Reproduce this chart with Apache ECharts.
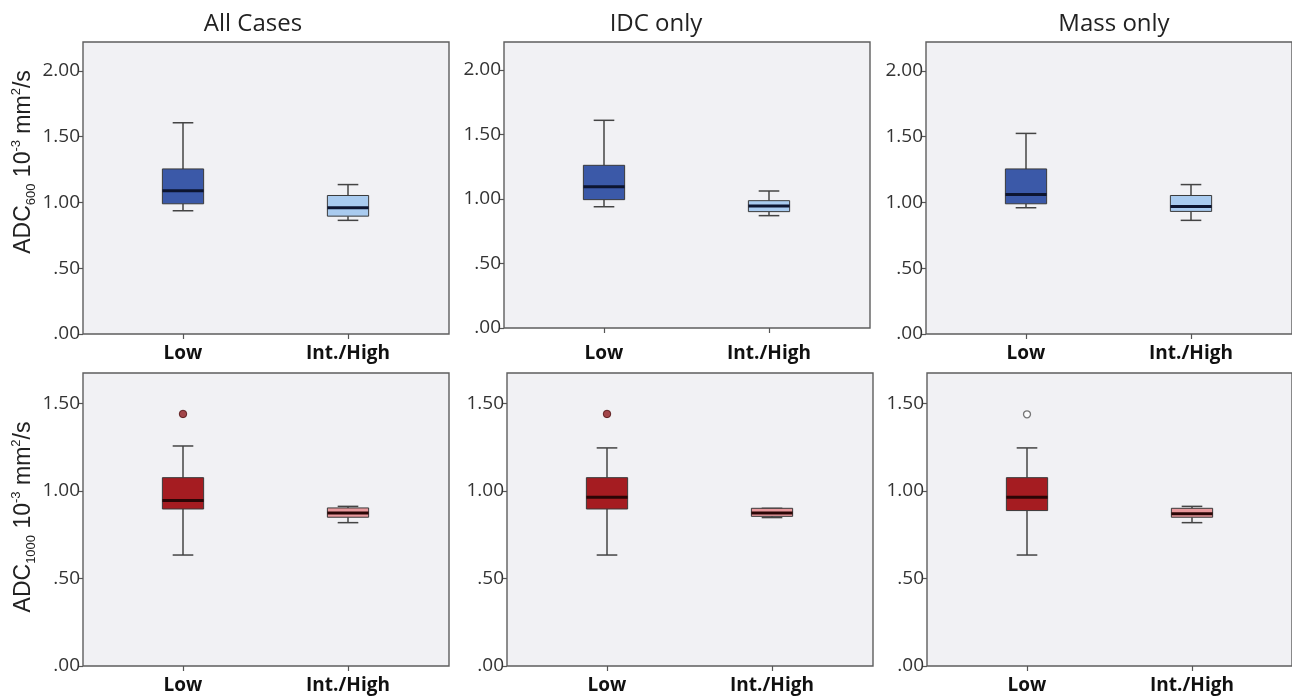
<!DOCTYPE html>
<html><head><meta charset="utf-8">
<script src="https://cdn.jsdelivr.net/npm/echarts@6/dist/echarts.min.js"></script>
<style>html,body{margin:0;padding:0;background:#fff}#c{width:1292px;height:697px}</style>
</head><body><div id="c"></div>
<script>
// ---------- data ----------
const categories = ['Low', 'Int./High'];
const panelTitles = ['All Cases', 'IDC only', 'Mass only'];
const yTicksTop = [0, 0.5, 1.0, 1.5, 2.0];
const yTicksBottom = [0, 0.5, 1.0, 1.5];
// each box: [min, Q1, median, Q3, max]
const adc600AllLow   = [0.937, 0.990, 1.089, 1.255, 1.606];
const adc600AllHigh  = [0.864, 0.896, 0.960, 1.053, 1.136];
const adc600IdcLow   = [0.940, 0.995, 1.095, 1.261, 1.610];
const adc600IdcHigh  = [0.871, 0.902, 0.946, 0.987, 1.062];
const adc600MassLow  = [0.960, 0.990, 1.060, 1.255, 1.525];
const adc600MassHigh = [0.864, 0.932, 0.970, 1.053, 1.136];
const adc1000AllLow   = [0.634, 0.897, 0.945, 1.076, 1.257];
const adc1000AllHigh  = [0.819, 0.850, 0.874, 0.903, 0.912];
const adc1000IdcLow   = [0.634, 0.897, 0.964, 1.076, 1.246];
const adc1000IdcHigh  = [0.848, 0.855, 0.874, 0.901, 0.901];
const adc1000MassLow  = [0.634, 0.888, 0.964, 1.076, 1.246];
const adc1000MassHigh = [0.819, 0.850, 0.870, 0.901, 0.912];
// outliers (Low group)
const adc1000AllOutliers  = [1.44];
const adc1000IdcOutliers  = [1.44];
const adc1000MassOutliers = [1.438];

// ---------- layout / style ----------
const FONT = '"Open Sans", "Liberation Sans", sans-serif';
const panels = [
  {left: 83,  top: 42,  height: 292, yMax: 2.22,  ticks: yTicksTop,    low: adc600AllLow,    high: adc600AllHigh,    out: [], hollow: false, row: 0, lm: 10},
  {left: 504, top: 42,  height: 286, yMax: 2.217, ticks: yTicksTop,    low: adc600IdcLow,    high: adc600IdcHigh,    out: [], hollow: false, row: 0, lm: 16},
  {left: 926, top: 42,  height: 292, yMax: 2.22,  ticks: yTicksTop,    low: adc600MassLow,   high: adc600MassHigh,   out: [], hollow: false, row: 0, lm: 10},
  {left: 83,  top: 373, height: 293, yMax: 1.674, ticks: yTicksBottom, low: adc1000AllLow,   high: adc1000AllHigh,   out: adc1000AllOutliers,  hollow: false, row: 1, lm: 10},
  {left: 507, top: 373, height: 293, yMax: 1.674, ticks: yTicksBottom, low: adc1000IdcLow,   high: adc1000IdcHigh,   out: adc1000IdcOutliers,  hollow: false, row: 1, lm: 10},
  {left: 927, top: 373, height: 293, yMax: 1.674, ticks: yTicksBottom, low: adc1000MassLow,  high: adc1000MassHigh,  out: adc1000MassOutliers, hollow: true,  row: 1, lm: 10}
];
const rowFills = [
  {fills: ['#3B59A8', '#A9CBEF'], median: '#0d1530'},
  {fills: ['#A51C21', '#E9989C'], median: '#2a0606'}
];

function fmt(v) { const s = v.toFixed(2); return s.charAt(0) === '0' ? s.slice(1) : s; }

function makeRender(row) {
  const st = rowFills[row];
  return function (params, api) {
    const x = api.value(0);
    const pMin = api.coord([x, api.value(1)]);
    const pQ1 = api.coord([x, api.value(2)]);
    const pMed = api.coord([x, api.value(3)]);
    const pQ3 = api.coord([x, api.value(4)]);
    const pMax = api.coord([x, api.value(5)]);
    const band = api.size([1, 0])[0];
    const w = band * 0.25, cw = w / 2, cx = pMed[0];
    const wl = {stroke: '#444', lineWidth: 1.5};
    return {type: 'group', children: [
      {type: 'line', shape: {x1: cx, y1: pQ3[1], x2: cx, y2: pMax[1]}, style: wl},
      {type: 'line', shape: {x1: cx - cw / 2, y1: pMax[1], x2: cx + cw / 2, y2: pMax[1]}, style: wl},
      {type: 'line', shape: {x1: cx, y1: pQ1[1], x2: cx, y2: pMin[1]}, style: wl},
      {type: 'line', shape: {x1: cx - cw / 2, y1: pMin[1], x2: cx + cw / 2, y2: pMin[1]}, style: wl},
      {type: 'rect', shape: {x: cx - w / 2, y: pQ3[1], width: w, height: pQ1[1] - pQ3[1]},
        style: {fill: st.fills[x], stroke: '#3a3a3a', lineWidth: 1}},
      {type: 'line', shape: {x1: cx - w / 2, y1: pMed[1], x2: cx + w / 2, y2: pMed[1]},
        style: {stroke: st.median, lineWidth: 3}}
    ]};
  };
}

const grid = [], xAxis = [], yAxis = [], series = [];
panels.forEach(function (p, i) {
  // frame grid (background, border, y axis)
  grid.push({left: p.left, top: p.top, width: 366, height: p.height, show: true,
    backgroundColor: '#F1F1F4', borderColor: '#5e5e5e', borderWidth: 1.4, containLabel: false});
  xAxis.push({gridIndex: 2 * i, type: 'value', min: 0, max: 1, show: false});
  yAxis.push({gridIndex: 2 * i, type: 'value', min: 0, max: p.yMax,
    axisLine: {show: false}, splitLine: {show: false},
    axisTick: {show: true, length: 5, customValues: p.ticks, lineStyle: {color: '#555', width: 1.2}},
    axisLabel: {customValues: p.ticks, formatter: fmt, fontSize: 19, color: '#333', margin: 3, fontFamily: FONT}});
  // box grid (category positions)
  grid.push({left: p.left + 17.5, top: p.top, width: 330, height: p.height, show: false});
  xAxis.push({gridIndex: 2 * i + 1, type: 'category', data: categories, boundaryGap: true,
    axisLine: {show: false}, splitLine: {show: false},
    axisTick: {show: true, alignWithLabel: true, length: 5, lineStyle: {color: '#555', width: 1.2}},
    axisLabel: {fontSize: 19, fontWeight: 'bold', color: '#111', margin: p.lm, fontFamily: FONT}});
  yAxis.push({gridIndex: 2 * i + 1, type: 'value', min: 0, max: p.yMax, show: false});
  series.push({type: 'custom', xAxisIndex: 2 * i + 1, yAxisIndex: 2 * i + 1,
    renderItem: makeRender(p.row),
    encode: {x: 0, y: [1, 2, 3, 4, 5]},
    data: [[0].concat(p.low), [1].concat(p.high)], z: 3});
  if (p.out.length) {
    series.push({type: 'scatter', xAxisIndex: 2 * i + 1, yAxisIndex: 2 * i + 1,
      data: p.out.map(function (v) { return [categories[0], v]; }),
      symbol: 'circle', symbolSize: p.hollow ? 7 : 7.5, z: 5,
      itemStyle: p.hollow ? {color: '#ffffff', borderColor: '#555', borderWidth: 1.3}
                          : {color: '#8E1A1E', borderColor: '#4a0c0c', borderWidth: 1}});
  }
});

const titleCenters = [253, 656, 1114];
const title = panelTitles.map(function (t, i) {
  return {text: t, left: titleCenters[i], top: 24, textAlign: 'center', textVerticalAlign: 'middle', padding: 0,
    textStyle: {fontSize: 24, fontWeight: 'normal', color: '#222', fontFamily: FONT}};
});

const richName = {
  m:   {fontSize: 23, lineHeight: 28, fontFamily: '"Liberation Sans", sans-serif', fill: '#222'},
  sub: {fontSize: 13, verticalAlign: 'bottom', fontFamily: '"Liberation Sans", sans-serif', fill: '#222'},
  sup: {fontSize: 13, verticalAlign: 'top', fontFamily: '"Liberation Sans", sans-serif', fill: '#222'}
};
const yNames = [
  {text: '{m|ADC}{sub|600}{m| 10}{sup|-3}{m| mm}{sup|2}{m|/s}', x: 24, y: 162},
  {text: '{m|ADC}{sub|1000}{m| 10}{sup|-3}{m| mm}{sup|2}{m|/s}', x: 24, y: 517}
];
const graphic = yNames.map(function (n) {
  return {type: 'text', x: n.x, y: n.y, rotation: Math.PI / 2,
    style: {text: n.text, rich: richName, align: 'center', verticalAlign: 'middle', fill: '#222'}};
});

const chart = echarts.init(document.getElementById('c'), null, {renderer: 'canvas'});
chart.setOption({backgroundColor: '#ffffff', animation: false, title: title, grid: grid,
  xAxis: xAxis, yAxis: yAxis, series: series, graphic: graphic});
</script></body></html>
